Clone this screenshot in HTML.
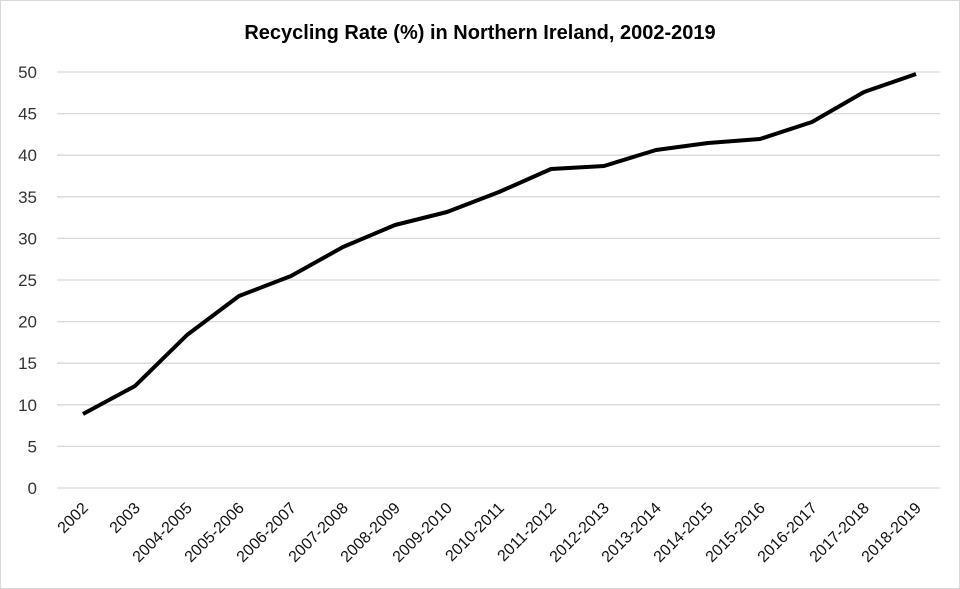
<!DOCTYPE html>
<html><head><style>body{margin:0;background:#fff}svg{display:block}</style></head><body>
<svg width="960" height="589" xmlns="http://www.w3.org/2000/svg" font-family="Liberation Sans, sans-serif">
<rect x="0.5" y="0.5" width="959" height="588" fill="#fff" stroke="#d9d9d9"/>
<text x="480" y="39" text-anchor="middle" font-size="20" font-weight="bold" fill="#000">Recycling Rate (%) in Northern Ireland, 2002-2019</text>
<g stroke="#d9d9d9" stroke-width="1.3">
<line x1="57" x2="940" y1="72" y2="72"/><line x1="57" x2="940" y1="113.6" y2="113.6"/><line x1="57" x2="940" y1="155.2" y2="155.2"/><line x1="57" x2="940" y1="196.8" y2="196.8"/><line x1="57" x2="940" y1="238.4" y2="238.4"/><line x1="57" x2="940" y1="280" y2="280"/><line x1="57" x2="940" y1="321.6" y2="321.6"/><line x1="57" x2="940" y1="363.2" y2="363.2"/><line x1="57" x2="940" y1="404.8" y2="404.8"/><line x1="57" x2="940" y1="446.4" y2="446.4"/><line x1="57" x2="940" y1="488" y2="488"/>
</g>
<g font-size="17" fill="#333" text-anchor="end">
<text x="37" y="78">50</text><text x="37" y="119.6">45</text><text x="37" y="161.2">40</text><text x="37" y="202.8">35</text><text x="37" y="244.4">30</text><text x="37" y="286">25</text><text x="37" y="327.6">20</text><text x="37" y="369.2">15</text><text x="37" y="410.8">10</text><text x="37" y="452.4">5</text><text x="37" y="494">0</text>
</g>
<polyline fill="none" stroke="#000" stroke-width="4" stroke-linejoin="round" points="83,414 135,386 187,335 239,296 291,276 343,247 395,225 447,212 499,192 551,169 604,166 656,150 708,143 760,139 812,122 864,92 916,74" />
<g font-size="16" fill="#111" text-anchor="end">
<text transform="translate(89,509) rotate(-45)">2002</text>
<text transform="translate(141,509) rotate(-45)">2003</text>
<text transform="translate(193,509) rotate(-45)">2004-2005</text>
<text transform="translate(245,509) rotate(-45)">2005-2006</text>
<text transform="translate(297,509) rotate(-45)">2006-2007</text>
<text transform="translate(349,509) rotate(-45)">2007-2008</text>
<text transform="translate(401,509) rotate(-45)">2008-2009</text>
<text transform="translate(453,509) rotate(-45)">2009-2010</text>
<text transform="translate(505,509) rotate(-45)">2010-2011</text>
<text transform="translate(557,509) rotate(-45)">2011-2012</text>
<text transform="translate(610,509) rotate(-45)">2012-2013</text>
<text transform="translate(662,509) rotate(-45)">2013-2014</text>
<text transform="translate(714,509) rotate(-45)">2014-2015</text>
<text transform="translate(766,509) rotate(-45)">2015-2016</text>
<text transform="translate(818,509) rotate(-45)">2016-2017</text>
<text transform="translate(870,509) rotate(-45)">2017-2018</text>
<text transform="translate(922,509) rotate(-45)">2018-2019</text>
</g>
</svg>
</body></html>
